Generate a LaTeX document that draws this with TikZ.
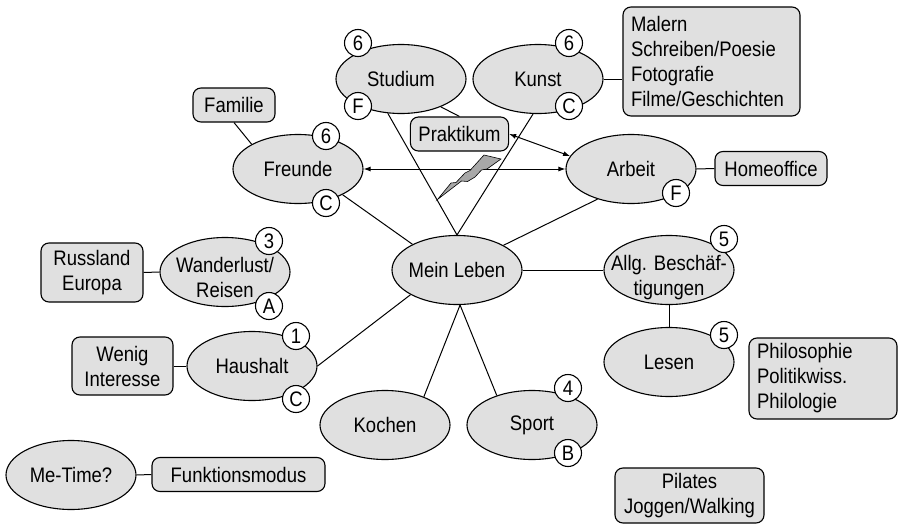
\documentclass[tikz,border=0pt]{standalone}
\usepackage{fontspec}
\setmainfont{Liberation Sans}[FakeStretch=0.88]
\usetikzlibrary{shapes.geometric,arrows.meta}
\definecolor{gbg}{HTML}{E0E0E0}
\definecolor{boltgray}{HTML}{A8A8A8}
\newcommand{\mkz}[1]{\makebox[0pt]{#1}}
\newcommand{\twol}[2]{\makebox[0pt]{\smash{\begin{tabular}[t]{@{}c@{}}#1\\#2\end{tabular}}}}
\tikzset{
  ell/.style={ellipse, draw, fill=gbg, line width=1.1pt, minimum width=130pt, minimum height=69pt, inner sep=0pt},
  rbox/.style={rectangle, draw, fill=gbg, rounded corners=8pt, line width=1.1pt, minimum height=34pt, inner xsep=8pt, inner ysep=2pt},
  num/.style={circle, draw, fill=white, line width=1.1pt, minimum size=27pt, inner sep=0pt},
  con/.style={line width=1pt},
  dbl/.style={line width=1pt, {Latex[length=7pt,width=5pt]}-{Latex[length=7pt,width=5pt]}}
}
\begin{document}
\begin{tikzpicture}[x=1pt,y=-1pt,font=\fontsize{21}{25}\selectfont]
\useasboundingbox (0,0) rectangle (898,525);
% ellipses
\node[ell] (stu) at (401,79) {\mkz{Studium}};
\node[ell] (kun) at (538,79) {\mkz{Kunst}};
\node[ell] (fre) at (298,169) {\mkz{Freunde}};
\node[ell] (arb) at (631,169) {\mkz{Arbeit}};
\node[ell] (ml) at (457,270) {\mkz{Mein Leben}};
\node[ell] (allg) at (669,270) {\twol{Allg. Beschäf-}{tigungen}};
\node[ell] (les) at (669,362) {\mkz{Lesen}};
\node[ell] (spo) at (532,425) {\mkz{Sport}};
\node[ell] (koc) at (385,425) {\mkz{Kochen}};
\node[ell] (wan) at (225,272) {\twol{Wanderlust/}{Reisen}};
\node[ell] (hau) at (252,366) {\mkz{Haushalt}};
\node[ell] (me) at (71,475) {\mkz{Me-Time?}};
% boxes
\node[rbox, minimum width=82pt] (fam) at (234,105) {Familie};
\node[rbox, minimum width=97pt] (prak) at (459.5,134) {Praktikum};
\node[rbox, minimum width=112pt] (home) at (771,168.5) {Homeoffice};
\node[rbox, minimum width=173pt] (funk) at (238.5,474.5) {Funktionsmodus};
\node[rbox, minimum width=102pt, minimum height=59pt, align=center] (rus) at (92,272.5) {Russland\\Europa};
\node[rbox, minimum width=101pt, minimum height=58pt, align=center] (wen) at (122.5,366) {Wenig\\Interesse};
\node[rbox, text width=161pt, minimum height=109pt, align=left] (mal) at (711.5,61.5) {Malern\\Schreiben/Poesie\\Fotografie\\Filme/Geschichten};
\node[rbox, text width=132pt, minimum height=81pt, align=left] (phil) at (823,378.5) {Philosophie\\Politikwiss.\\Philologie};
\node[rbox, minimum width=149pt, minimum height=55pt, align=center] (pil) at (689.5,495.5) {Pilates\\Joggen/Walking};
% connectors
\draw[con] (fam.south) -- (fre.north west);
\draw[con] (fre.-30) -- (ml.150);
\draw[con] (stu.-111) -- (ml.north);
\draw[con] (kun.-98) -- (ml.north);
\draw[con] (ml.28.5) -- (arb.-138);
\draw[con] (ml.east) -- (allg.west);
\draw[con] (allg.south) -- (les.north);
\draw[con] (ml.-152) -- (hau.east);
\draw[con] (ml.-85) -- (koc.36);
\draw[con] (ml.-85) -- (spo.140);
\draw[con] (rus.east) -- (wan.west);
\draw[con] (wen.east) -- (hau.west);
\draw[con] (me.east) -- (funk.west);
\draw[con] (kun.east) -- (kun.east -| mal.west);
\draw[con] (arb.east) -- (home.west);
\draw[con] (stu.-35) -- (prak.north);
\draw[dbl] (fre.east) -- (arb.west);
\draw[dbl] (prak.east) -- (arb.168);
% lightning bolt
\draw[fill=boltgray, line width=0.6pt, line join=miter] (437.5,199.5) -- (451,183) -- (456,182.5) -- (465,173) -- (470,170.5) -- (484,155) -- (501,159) -- (487,169) -- (481.5,170) -- (475,177) -- (467.5,181.5) -- (461.5,181) -- cycle;
% small circles
\node[num] (n1) at (358,43) {6};
\node[num] (n2) at (358,106) {F};
\node[num] (n3) at (569,43) {6};
\node[num] (n4) at (569,106) {C};
\node[num] (n5) at (326,136) {6};
\node[num] (n6) at (326,203) {C};
\node[num] (n7) at (676,193) {F};
\node[num] (n8) at (269,241) {3};
\node[num] (n9) at (269,306) {A};
\node[num] (n10) at (296,336) {1};
\node[num] (n11) at (296,399) {C};
\node[num] (n12) at (724,239) {5};
\node[num] (n13) at (724,335) {5};
\node[num] (n14) at (568,388) {4};
\node[num] (n15) at (568,453) {B};
\end{tikzpicture}
\end{document}
